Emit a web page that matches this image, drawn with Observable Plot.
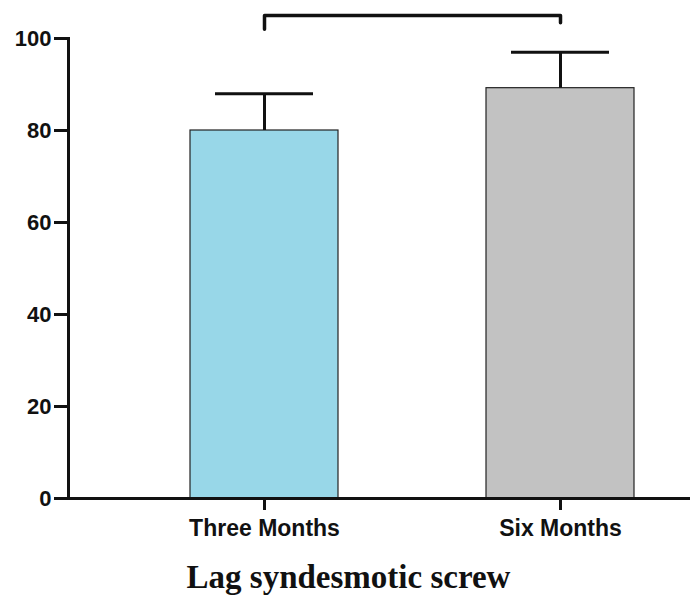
<!DOCTYPE html>
<html><head><meta charset="utf-8">
<script src="https://cdn.jsdelivr.net/npm/d3@7"></script>
<script src="https://cdn.jsdelivr.net/npm/@observablehq/plot@0.6"></script>
<style>body{margin:0;background:#fff}</style>
</head><body><div id="chart"></div>
<script>
const categories = ["Three Months", "Six Months"];
const means = [80.0, 89.2];
const errors = [8.0, 7.8];
const colors = ["#98d7e8", "#c2c2c2"];
const yTicks = [0, 20, 40, 60, 80, 100];
const bracketX = ["Three Months", "Three Months", "Six Months", "Six Months"];
const bracketY = [102.0, 105.0, 105.0, 103.4];
const title = "Lag syndesmotic screw";

const data = categories.map((c, i) => ({category: c, mean: means[i], upper: means[i] + errors[i], color: colors[i]}));
const bracket = bracketX.map((x, i) => ({x, y: bracketY[i]}));

const chart = Plot.plot({
  width: 690, height: 596,
  marginLeft: 68, marginRight: 0, marginTop: 38, marginBottom: 98,
  style: {fontFamily: "'Liberation Sans', Arial, sans-serif", background: "#fff", overflow: "visible", color: "#111"},
  x: {type: "band", domain: categories, range: [190, 634], paddingInner: 0.5, paddingOuter: 0},
  y: {domain: [0, 100]},
  color: {type: "identity"},
  marks: [
    Plot.barY(data, {x: "category", y: "mean", fill: "color", stroke: "#222", strokeWidth: 1.2}),
    Plot.ruleX(data, {x: "category", y1: "mean", y2: "upper", stroke: "#111", strokeWidth: 3}),
    Plot.tickY(data, {x: "category", y: "upper", stroke: "#111", strokeWidth: 3, inset: 25}),
    Plot.line(bracket, {x: "x", y: "y", stroke: "#111", strokeWidth: 3.5}),
    Plot.frame({anchor: "left", stroke: "#111", strokeWidth: 3}),
    Plot.ruleY([0], {stroke: "#111", strokeWidth: 3}),
    Plot.axisY({ticks: yTicks, tickSize: 14, tickPadding: 3, fontSize: 22, fontWeight: "bold", strokeWidth: 3, label: null}),
    Plot.axisX({tickSize: 12, tickPadding: 9, fontSize: 23, fontWeight: "bold", strokeWidth: 3, label: null}),
    Plot.text([title], {text: d => d, frameAnchor: "bottom", dx: -31, dy: 89, lineAnchor: "bottom",
      fontFamily: "'Liberation Serif', 'Times New Roman', serif", fontWeight: "bold", fontSize: 33, fill: "#111"})
  ]
});
document.getElementById("chart").appendChild(chart);
</script>
</body></html>
